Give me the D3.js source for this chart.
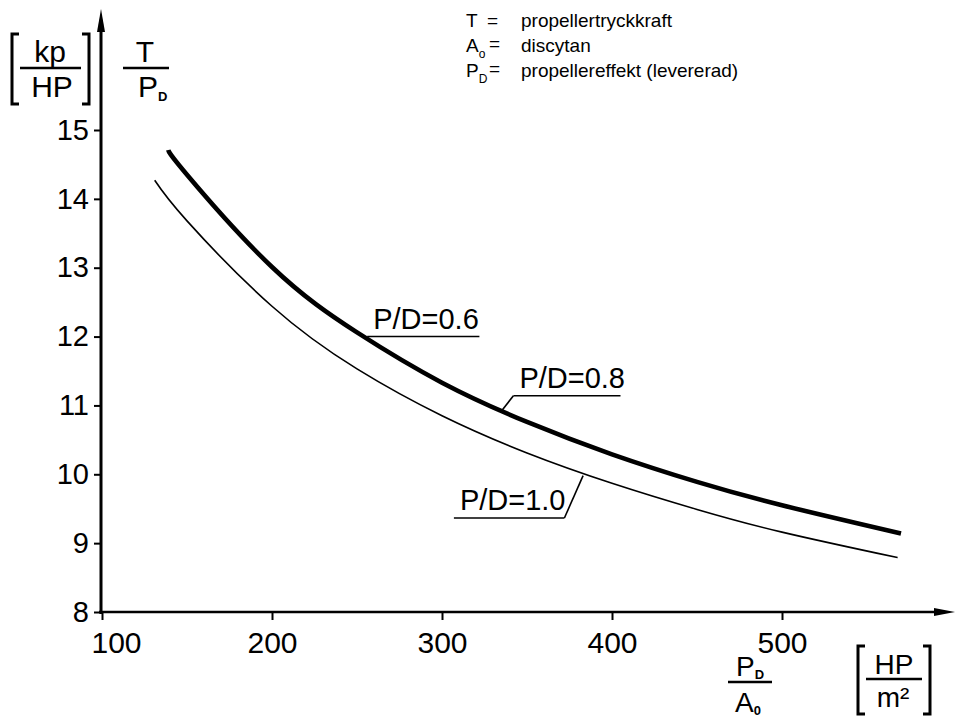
<!DOCTYPE html>
<html>
<head>
<meta charset="utf-8">
<script src="https://cdnjs.cloudflare.com/ajax/libs/d3/7.8.5/d3.min.js"></script>
<style>
  html, body { margin: 0; padding: 0; background: #fff; }
  svg { display: block; font-family: "Liberation Sans", Arial, sans-serif; }
</style>
</head>
<body>
<svg id="chart" width="955" height="718"></svg>
<script>
// Specific thrust T/P_D [kp/HP] against disc loading P_D/A_0 [HP/m²]
const xTicks = [100, 200, 300, 400, 500];
const yTicks = [8, 9, 10, 11, 12, 13, 14, 15];

// P/D = 0.6 and P/D = 0.8 share the heavy curve
const heavyX = [139, 150, 200, 250, 300, 350, 400, 450, 500, 570];
const heavyY = [14.71, 14.35, 13.01, 12.06, 11.33, 10.76, 10.29, 9.89, 9.55, 9.14];

// P/D = 1.0
const lightX = [131, 150, 200, 250, 300, 350, 400, 450, 500, 568];
const lightY = [14.27, 13.68, 12.44, 11.53, 10.85, 10.31, 9.87, 9.49, 9.16, 8.79];

// Curve labels: underline span (x0..x1 at level y) and leader tip on the curve
const curveLabels = [
  { text: "P/D=0.6", x0: 256, x1: 322, y: 12.0, tip: null },
  { text: "P/D=0.8", x0: 342, x1: 405, y: 11.14, tip: [335, 10.92], tipAt: "start" },
  { text: "P/D=1.0", x0: 307, x1: 372, y: 9.365, tip: [383, 9.98], tipAt: "end" }
];

const legendRows = [
  { sym: "T", sub: "", text: "propellertryckkraft" },
  { sym: "A", sub: "o", text: "discytan" },
  { sym: "P", sub: "D", text: "propellereffekt (levererad)" }
];

const svg = d3.select("#chart");
const x = d3.scaleLinear().domain([100, 500]).range([102, 782]);
const y = d3.scaleLinear().domain([8, 15]).range([612, 130]);
const ink = "#000";

// x axis
const gx = svg.append("g").attr("transform", `translate(0,${y(8)})`)
  .call(d3.axisBottom(x).tickValues(xTicks).tickSize(8).tickPadding(12).tickFormat(d3.format("d")));
gx.select(".domain").remove();
gx.selectAll(".tick line").attr("stroke", ink).attr("stroke-width", 2);
gx.selectAll(".tick text").attr("font-size", 30).attr("fill", ink)
  .attr("font-family", "Liberation Sans, Arial, sans-serif")
  .attr("dx", d => d === 100 ? 14 : 0);

// y axis
const gy = svg.append("g").attr("transform", `translate(${x(100) - 1},0)`)
  .call(d3.axisLeft(y).tickValues(yTicks).tickSize(7).tickPadding(5).tickFormat(d3.format("d")));
gy.select(".domain").remove();
gy.selectAll(".tick line").attr("stroke", ink).attr("stroke-width", 2);
gy.selectAll(".tick text").attr("font-size", 29).attr("fill", ink)
  .attr("font-family", "Liberation Sans, Arial, sans-serif");

// axis lines with arrow heads
const x0px = x(100) - 1, y0px = y(8);
svg.append("line").attr("x1", x0px - 2).attr("x2", 938).attr("y1", y0px).attr("y2", y0px)
  .attr("stroke", ink).attr("stroke-width", 2.4);
svg.append("path").attr("d", `M934,${y0px - 4}L955,${y0px}L934,${y0px + 4}Z`).attr("fill", ink);
svg.append("line").attr("x1", x0px).attr("x2", x0px).attr("y1", y0px + 2).attr("y2", 30)
  .attr("stroke", ink).attr("stroke-width", 3);
svg.append("path").attr("d", `M${x0px - 4},32L${x0px},9L${x0px + 4},32Z`).attr("fill", ink);

// curves
const line = d3.line().x(d => x(d[0])).y(d => y(d[1])).curve(d3.curveNatural);
svg.append("path").datum(heavyX.map((v, i) => [v, heavyY[i]]))
  .attr("d", line).attr("fill", "none").attr("stroke", ink)
  .attr("stroke-width", 4.6).attr("stroke-linecap", "butt");
svg.append("path").datum(lightX.map((v, i) => [v, lightY[i]]))
  .attr("d", line).attr("fill", "none").attr("stroke", ink)
  .attr("stroke-width", 1.6);

// curve labels
curveLabels.forEach(l => {
  const ly = y(l.y);
  svg.append("line").attr("x1", x(l.x0)).attr("x2", x(l.x1)).attr("y1", ly).attr("y2", ly)
    .attr("stroke", ink).attr("stroke-width", 1.6);
  if (l.tip) {
    const sx = l.tipAt === "start" ? x(l.x0) : x(l.x1);
    svg.append("line").attr("x1", sx).attr("y1", ly).attr("x2", x(l.tip[0])).attr("y2", y(l.tip[1]))
      .attr("stroke", ink).attr("stroke-width", 1.6);
  }
  svg.append("text").attr("x", x(l.x0) + 6).attr("y", ly - 8)
    .attr("font-size", 29).attr("fill", ink).text(l.text);
});

// legend
const lg = svg.append("g").attr("font-size", 19).attr("fill", ink);
legendRows.forEach((r, i) => {
  const by = 27 + i * 25;
  const t = lg.append("text").attr("x", 466).attr("y", by);
  t.append("tspan").text(r.sym);
  if (r.sub) t.append("tspan").attr("font-size", 12).attr("dy", 6).text(r.sub);
  lg.append("text").attr("x", r.sub ? 489 : 487).attr("y", by - (r.sub ? 2 : 0)).text("=");
  lg.append("text").attr("x", 521).attr("y", by).text(r.text);
});

// y axis title: [kp/HP]  T/P_D
const yt = svg.append("g").attr("fill", ink);
function bracket(g, xa, y1, y2, dir) {
  g.append("path").attr("d", `M${xa + dir * 7},${y1}H${xa}V${y2}H${xa + dir * 7}`)
    .attr("fill", "none").attr("stroke", ink).attr("stroke-width", 3);
}
bracket(yt, 12, 34, 104, 1);
bracket(yt, 89, 34, 104, -1);
yt.append("text").attr("x", 50).attr("y", 62).attr("text-anchor", "middle").attr("font-size", 30).text("kp");
yt.append("line").attr("x1", 20).attr("x2", 81).attr("y1", 68).attr("y2", 68).attr("stroke", ink).attr("stroke-width", 2.5);
yt.append("text").attr("x", 52).attr("y", 97).attr("text-anchor", "middle").attr("font-size", 30).text("HP");
yt.append("text").attr("x", 145).attr("y", 62).attr("text-anchor", "middle").attr("font-size", 30).text("T");
yt.append("line").attr("x1", 123).attr("x2", 169).attr("y1", 68).attr("y2", 68).attr("stroke", ink).attr("stroke-width", 2.5);
const pd = yt.append("text").attr("x", 138).attr("y", 97).attr("font-size", 30);
pd.append("tspan").text("P");
pd.append("tspan").attr("font-size", 13).attr("font-weight", "bold").attr("dy", 4).text("D");

// x axis title: P_D/A_0  [HP/m²]
const xt = svg.append("g").attr("fill", ink);
const pd2 = xt.append("text").attr("x", 736).attr("y", 676).attr("font-size", 28);
pd2.append("tspan").text("P");
pd2.append("tspan").attr("font-size", 13).attr("font-weight", "bold").attr("dy", 3).text("D");
xt.append("line").attr("x1", 728).attr("x2", 772).attr("y1", 682).attr("y2", 682).attr("stroke", ink).attr("stroke-width", 2.5);
const a0 = xt.append("text").attr("x", 735).attr("y", 712).attr("font-size", 28);
a0.append("tspan").text("A");
a0.append("tspan").attr("font-size", 13).attr("font-weight", "bold").attr("dy", 3).text("0");
bracket(xt, 858, 646, 714, 1);
bracket(xt, 930, 646, 714, -1);
xt.append("text").attr("x", 894).attr("y", 674).attr("text-anchor", "middle").attr("font-size", 28).text("HP");
xt.append("line").attr("x1", 866).attr("x2", 922).attr("y1", 679).attr("y2", 679).attr("stroke", ink).attr("stroke-width", 2.5);
xt.append("text").attr("x", 893).attr("y", 707).attr("text-anchor", "middle").attr("font-size", 28).text("m²");
</script>
</body>
</html>
